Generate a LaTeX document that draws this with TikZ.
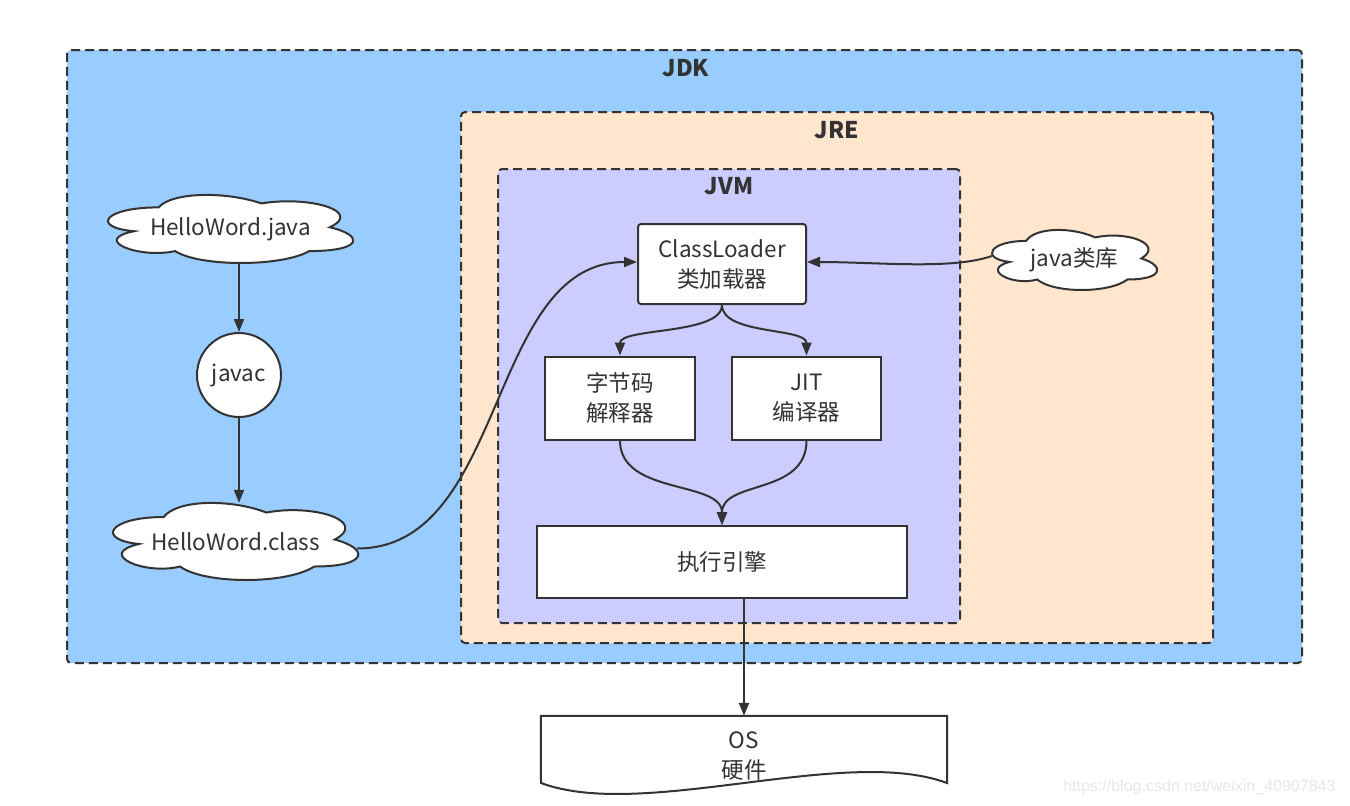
\documentclass[tikz,border=0pt]{standalone}
\usepackage{fontspec}
\setmainfont{Noto Sans CJK SC}
\newfontfamily\wmfont{Liberation Sans}
\usetikzlibrary{arrows.meta,calc}
\definecolor{jdkfill}{HTML}{99CCFF}
\definecolor{jrefill}{HTML}{FFE6CC}
\definecolor{jvmfill}{HTML}{CCCCFF}
\definecolor{ink}{HTML}{333333}
\tikzset{
  container/.style={draw=ink, line width=2pt, dash pattern=on 9pt off 5pt, rounded corners=4pt, inner sep=0pt},
  titletext/.style={font=\fontsize{23}{27}\selectfont\bfseries, text=ink},
  box/.style={draw=ink, fill=white, line width=2pt, font=\fontsize{22.5}{30}\selectfont, text=ink, align=center, inner sep=0pt},
  cloudline/.style={draw=ink, fill=white, line width=2pt},
  cloudtext/.style={font=\fontsize{22.5}{30}\selectfont, text=ink, align=center, inner sep=0pt},
  conn/.style={draw=ink, line width=2pt, -{Triangle[length=13pt,width=10pt]}},
}
\newcommand\mycloud[6]{%
  \pgfmathsetmacro\cldW{#4/0.895}%
  \pgfmathsetmacro\cldH{#5/0.856}%
  \pgfmathsetmacro\cldX{#2-0.5125*\cldW}%
  \pgfmathsetmacro\cldY{#3-0.522*\cldH}%
  \begin{scope}[shift={(\cldX,\cldY)},x=\cldW pt,y=-\cldH pt]
    \draw[cloudline] (0.25,0.25) .. controls (0.05,0.25) and (0,0.5) .. (0.16,0.55)
      .. controls (0,0.66) and (0.18,0.9) .. (0.31,0.8)
      .. controls (0.4,1) and (0.7,1) .. (0.8,0.8)
      .. controls (1,0.8) and (1,0.6) .. (0.875,0.5)
      .. controls (1,0.3) and (0.8,0.1) .. (0.625,0.2)
      .. controls (0.5,0.05) and (0.3,0.05) .. (0.25,0.25) -- cycle;
  \end{scope}
  \node[cloudtext, minimum width=#4pt, minimum height=#5pt] (#1) at (#2,#3) {#6};
}
\begin{document}
\begin{tikzpicture}[x=1pt,y=-1pt]
\useasboundingbox (0,0) rectangle (1350,806);
\fill[white] (0,0) rectangle (1350,806);

% containers
\node[container, fill=jdkfill, minimum width=1235pt, minimum height=613pt] (jdk) at (684.5,356.5) {};
\node[titletext] (jdkt) at (686,68) {JDK};
\node[container, fill=jrefill, minimum width=752pt, minimum height=531pt] (jre) at (837,377.5) {};
\node[titletext] (jret) at (837,130) {JRE};
\node[container, fill=jvmfill, minimum width=462pt, minimum height=454pt] (jvm) at (729,396) {};
\node[titletext] (jvmt) at (729,186) {JVM};

% JVM boxes
\node[box, rounded corners=3pt, minimum width=168pt, minimum height=80pt] (cl) at (722,264) {ClassLoader\\类加载器};
\node[box, minimum width=150pt, minimum height=83pt] (bi) at (620,398) {字节码\\解释器};
\node[box, minimum width=149pt, minimum height=83pt] (jit) at (806.5,398) {JIT\\编译器};
\node[box, minimum width=370pt, minimum height=72pt] (ee) at (722,562) {执行引擎};

% left side
\mycloud{hj}{230.5}{229}{245}{68}{HelloWord.java}
\node[box, circle, minimum size=84pt] (javac) at (239,375) {javac};
\mycloud{hc}{235.5}{541.5}{245}{77}{HelloWord.class}
\mycloud{lib}{1074.5}{260}{165}{60}{java类库}

% OS document shape
\node[minimum width=406pt, minimum height=67pt, inner sep=0pt] (os) at (744,749.5) {};
\draw[draw=ink, fill=white, line width=2pt] (os.north west) -- (os.north east) -- (947,783)
  .. controls (845,745) and (643,821) .. (541,783) -- cycle;
\node[cloudtext] (ostext) at (744,756) {OS\\硬件};

% connectors
\draw[conn] (hj.south -| javac.north) -- (javac.north);
\draw[conn] (javac.south) -- (hc.north -| javac.south);
\draw[conn] ($(hc.east)+(-1,7)$) .. controls +(150,0) and +(-150,0) .. ($(cl.west)+(0,-2)$);
\draw[conn] ($(lib.west)+(0,-4)$) .. controls +(-40,14) and +(70,0) .. ($(cl.east)+(0,-2)$);
\draw[conn] (cl.south) .. controls +(0,30) and +(0,-28) .. (bi.north);
\draw[conn] (cl.south) .. controls +(0,30) and +(0,-28) .. (jit.north);
\draw[conn] (bi.south) .. controls +(0,55) and +(0,-45) .. (ee.north);
\draw[conn] (jit.south) .. controls +(0,55) and +(0,-45) .. (ee.north);
\draw[conn] (ee.south -| os.north) -- (os.north);

% watermark
\node[font=\wmfont\fontsize{16}{18}\selectfont, text=black!9, anchor=east] (wm) at (1339,787) {https://blog.csdn.net/weixin\_40907843};
\end{tikzpicture}
\end{document}
